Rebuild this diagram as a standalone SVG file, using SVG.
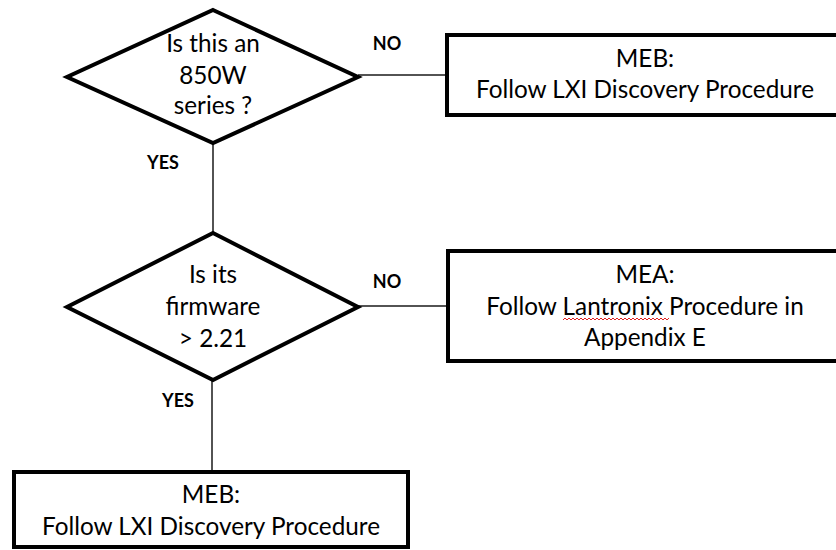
<svg xmlns="http://www.w3.org/2000/svg" width="836" height="550" viewBox="0 0 836 550">
<style>
.shape{fill:#fff;stroke:#000;stroke-width:4;stroke-linejoin:miter}
.conn{stroke:#1a1a1a;stroke-width:1.5;fill:none}
.t{font-family:Lato,"Open Sans",sans-serif;font-size:24.3px;fill:#000;text-anchor:middle}
.lbl{font-family:Lato,"Open Sans",sans-serif;font-size:18px;font-weight:bold;fill:#000;text-anchor:middle}
</style>
<rect width="836" height="550" fill="#fff"/>
<g id="connectors">
<line class="conn" x1="358" y1="75" x2="447" y2="75"/>
<line class="conn" x1="213" y1="143" x2="213" y2="233"/>
<line class="conn" x1="358" y1="306" x2="448" y2="306"/>
<line class="conn" x1="212" y1="380" x2="212" y2="472"/>
<text class="lbl" x="387" y="50">NO</text>
<text class="lbl" x="163" y="169">YES</text>
<text class="lbl" x="387" y="288">NO</text>
<text class="lbl" x="178" y="407">YES</text>
</g>
<g id="q1">
<polygon class="shape" points="213,10 358,77 213,143 67,77"/>
<text class="t" x="213" y="52">Is this an</text>
<text class="t" x="213" y="84">850W</text>
<text class="t" x="213" y="114">series ?</text>
</g>
<g id="meb1">
<rect class="shape" x="447" y="35" width="400" height="80"/>
<text class="t" x="645" y="67">MEB:</text>
<text class="t" x="645" y="98">Follow LXI Discovery Procedure</text>
</g>
<g id="q2">
<polygon class="shape" points="213,233 358,307 213,380 67,307"/>
<text class="t" x="213" y="283">Is its</text>
<text class="t" x="213" y="315">firmware</text>
<text class="t" x="213" y="347">&gt; 2.21</text>
</g>
<g id="mea">
<rect class="shape" x="448" y="251" width="400" height="110"/>
<text class="t" x="645" y="283">MEA:</text>
<text class="t" x="645" y="315">Follow Lantronix Procedure in</text>
<text class="t" x="645" y="346">Appendix E</text>
<path d="M563,320 l2,-2 l2,2 l2,-2 l2,2 l2,-2 l2,2 l2,-2 l2,2 l2,-2 l2,2 l2,-2 l2,2 l2,-2 l2,2 l2,-2 l2,2 l2,-2 l2,2 l2,-2 l2,2 l2,-2 l2,2 l2,-2 l2,2 l2,-2 l2,2 l2,-2 l2,2 l2,-2 l2,2 l2,-2 l2,2 l2,-2 l2,2 l2,-2 l2,2 l2,-2 l2,2 l2,-2 l2,2 l2,-2 l2,2 l2,-2 l2,2 l2,-2 l2,2 l2,-2 l2,2 l2,-2 l2,2 l2,-2 l2,2 l2,-2" fill="none" stroke="#e02020" stroke-width="1"/>
</g>
<g id="meb2">
<rect class="shape" x="14" y="472" width="394" height="75"/>
<text class="t" x="211" y="503">MEB:</text>
<text class="t" x="211" y="535">Follow LXI Discovery Procedure</text>
</g>
</svg>
